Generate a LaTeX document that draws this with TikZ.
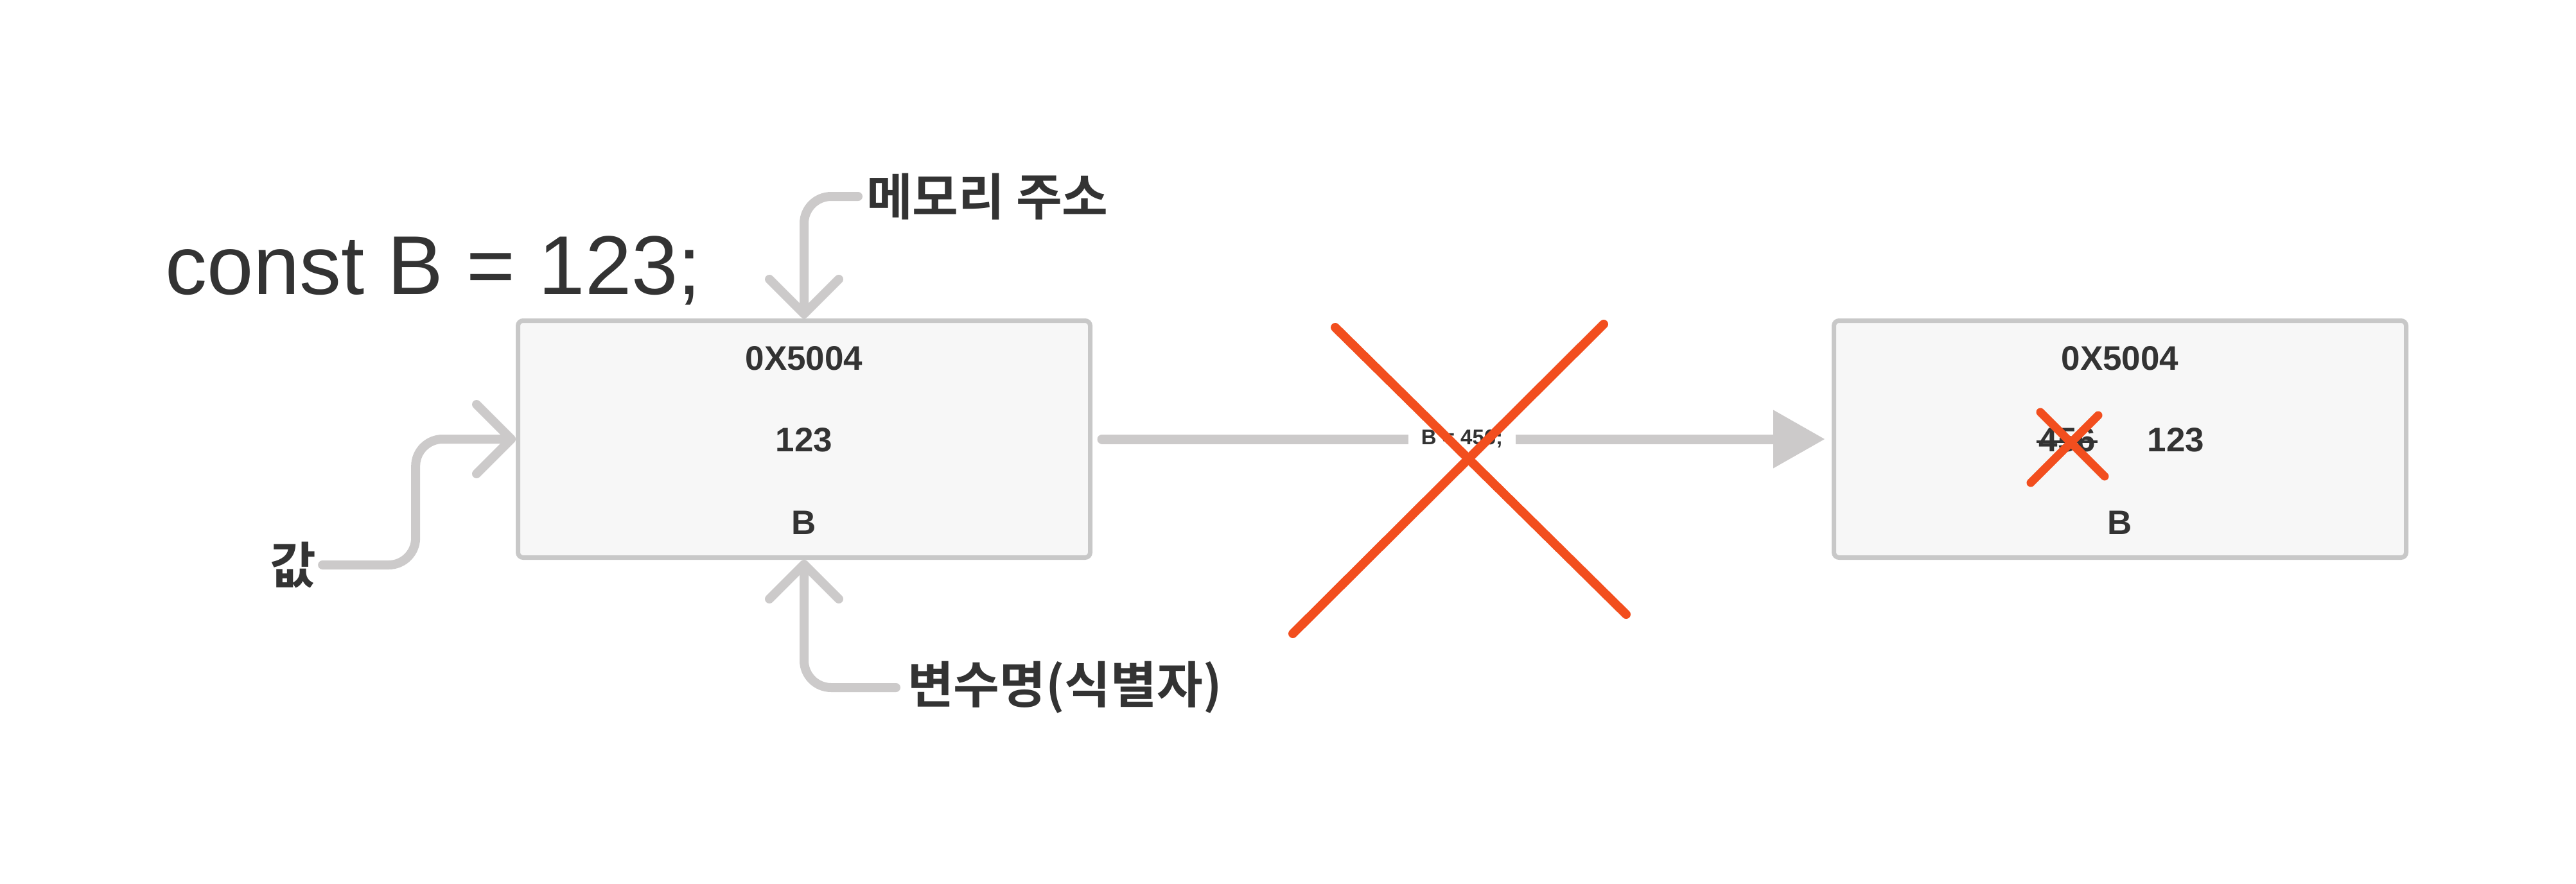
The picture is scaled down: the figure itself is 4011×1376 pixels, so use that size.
\documentclass[tikz,border=0pt]{standalone}
\usepackage{fontspec}
\setmainfont{Liberation Sans}
\newfontfamily\kr{Noto Sans CJK KR}[BoldFont={Noto Sans CJK KR Bold}]
\usetikzlibrary{arrows.meta}
\definecolor{ink}{HTML}{333333}
\definecolor{boxgray}{HTML}{C8C8C8}
\definecolor{boxfill}{HTML}{F7F7F7}
\definecolor{linegray}{HTML}{CCCACA}
\definecolor{xred}{HTML}{F24E1E}
\tikzset{
  membox/.style={draw=boxgray, fill=boxfill, line width=7pt, rounded corners=8pt,
    minimum width=891pt, minimum height=369pt, inner sep=0pt},
  celltxt/.style={font=\bfseries\fontsize{53}{62}\selectfont, text=ink, inner sep=0pt},
  lbl/.style={font=\kr\bfseries\fontsize{78}{92}\selectfont, text=ink, inner sep=0pt, anchor=west},
  link/.style={draw=linegray, line width=14pt, line cap=round, line join=round, rounded corners=42pt},
  barb/.style={-{Straight Barb[length=54pt, width=108pt, round]}},
  redx/.style={draw=xred, line width=14pt, line cap=round},
}
\begin{document}
\begin{tikzpicture}[x=1pt, y=-1pt]
\path[use as bounding box, fill=white] (0,0) rectangle (4011,1376);

% boxes
\node[membox] (m1) at (1252,684) {};
\node[membox] (m2) at (3301,684) {};

% box texts
\node[celltxt] (a1) at (1252,558) {0X5004};
\node[celltxt] (v1) at (1252,685) {123};
\node[celltxt] (n1) at (1252,814) {B};
\node[celltxt] (a2) at (3301,558) {0X5004};
\node[celltxt] (old) at (3219,685) {456};
\node[celltxt] (v2) at (3388,685) {123};
\node[celltxt] (n2) at (3301,814) {B};
\draw[ink, line width=4pt] ([xshift=-4pt,yshift=-3pt]old.west) -- ([xshift=3pt,yshift=-3pt]old.east);

% code and labels
\node[anchor=base west, inner sep=0pt, text=ink, font=\fontsize{130}{152}\selectfont] (code) at (257,458) {const B = 123;};
\node[lbl] (addr) at (1349,306) {메모리 주소};
\node[lbl] (val) at (420,880) {값};
\node[lbl] (ident) at (1413,1071) {변수명(식별자)};

% connectors
\draw[link, barb] ([xshift=-13pt]addr.west) -| (m1.north);
\draw[link, barb] ([xshift=10pt]val.east) -- ++(145,0) |- (m1.west);
\draw[link, barb] ([xshift=-18pt]ident.west) -| (m1.south);

\draw[draw=linegray, fill=linegray, line width=15pt, line cap=round,
  -{Triangle[length=80pt, width=91pt, line width=0pt]},
  shorten <=15pt, shorten >=11pt]
  (m1.east) -- node[fill=white, inner xsep=20pt, inner ysep=4pt,
    font=\bfseries\fontsize{33}{38}\selectfont, text=ink] (lab) {B = 456;} (m2.west);

% red crosses
\draw[redx] (2079,510) -- (2532,957);
\draw[redx] (2497,505) -- (2013,987);
\draw[redx, line width=13pt] (3177,642) -- (3277,742);
\draw[redx, line width=13pt] (3267,647) -- (3162,752);
\end{tikzpicture}
\end{document}
